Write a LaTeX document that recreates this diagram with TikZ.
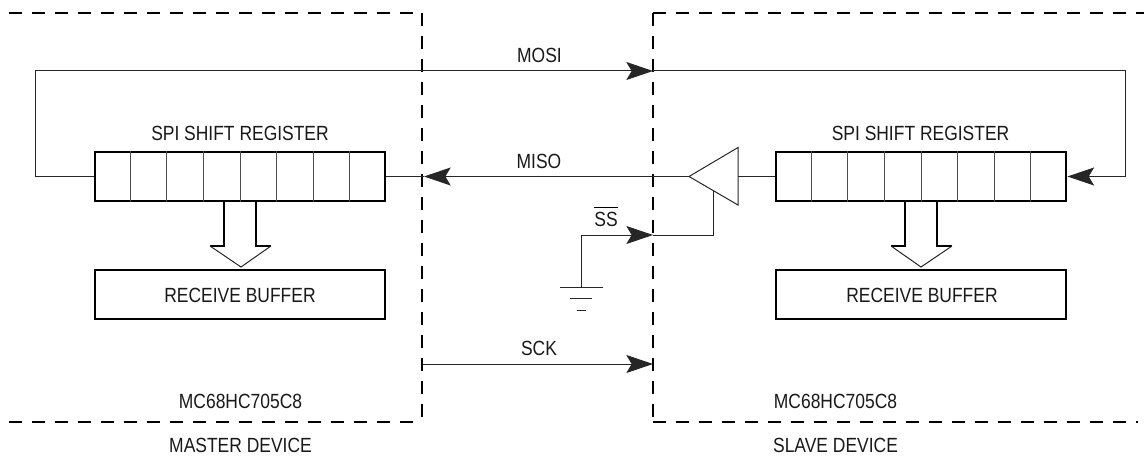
\documentclass[tikz,border=0pt]{standalone}
\usepackage{fontspec}
\setmainfont[FakeStretch=0.85]{Liberation Sans}
\usetikzlibrary{arrows.meta,calc}
\tikzset{
  wire/.style={line width=0.75pt,black!85},
  arrowed/.style={wire,-{Stealth[length=20pt,width=13.5pt,inset=4pt]}},
  devbox/.style={line width=1.25pt,dash pattern=on 10pt off 7.25pt,line cap=butt},
  thickbox/.style={draw,line width=1.6pt,minimum width=218pt,minimum height=36.5pt,inner sep=0pt},
  lbl/.style={font=\fontsize{15.4}{18}\selectfont,inner sep=0pt,text=black!90},
  divider/.style={line width=0.7pt,black!70},
  fat/.style={line width=1.6pt,line join=miter},
}
\begin{document}
\begin{tikzpicture}[x=0.75pt,y=-0.75pt]
\useasboundingbox (0,0) rectangle (1144,456);
% device boundaries
\draw[devbox] (9,13) -- (422,13);
\draw[devbox] (422,13) -- (422,422);
\draw[devbox] (9,422) -- (422,422);
\draw[devbox] (653,13) -- (1144,13);
\draw[devbox] (653,13) -- (653,422);
\draw[devbox] (653,422) -- (1138,422);
% registers
\node[thickbox] (regL) at (240,176.5) {};
\node[thickbox] (regR) at (921,176.5) {};
\foreach \r in {regL,regR}{
  \foreach \k in {1,...,7}{
    \draw[divider] ($(\r.north west)!\k/8!(\r.north east)$) -- ($(\r.south west)!\k/8!(\r.south east)$);
  }
}
% buffers
\node[thickbox] (bufL) at (240,294.5) {};
\node[thickbox] (bufR) at (921,294.5) {};
\node[lbl] (bufLt) at (240,295) {RECEIVE BUFFER};
\node[lbl] (bufRt) at (922,295) {RECEIVE BUFFER};
% transfer arrows
\coordinate (tipL) at (241,267);
\coordinate (tipR) at (921,267);
\draw[fat] (224,202) -- (224,246) -- (210,246);
\draw[fat] (256,202) -- (256,246) -- (271,246);
\draw[wire] (210,246) -- (tipL) -- (271,246);
\draw[fat] (905,202) -- (905,246) -- (891,246);
\draw[fat] (937,202) -- (937,246) -- (952,246);
\draw[wire] (891,246) -- (tipR) -- (952,246);
% labels
\node[lbl] (spiL) at (240,133) {SPI SHIFT REGISTER};
\node[lbl] (spiR) at (920.5,133) {SPI SHIFT REGISTER};
\node[lbl] (mosi) at (539.5,55.5) {MOSI};
\node[lbl] (miso) at (539,161) {MISO};
\node[lbl] (ss) at (606,219.5) {SS};
\draw[line width=1pt] ([yshift=3.5pt]ss.north west) -- ([yshift=3.5pt]ss.north east);
\node[lbl] (sck) at (539,348) {SCK};
\node[lbl] (mcL) at (240.5,401) {MC68HC705C8};
\node[lbl] (mcR) at (835.5,401) {MC68HC705C8};
\node[lbl] (mas) at (240.5,445) {MASTER DEVICE};
\node[lbl] (sla) at (835.5,445) {SLAVE DEVICE};
% MOSI
\coordinate (mosiIn) at (653,71);
\coordinate (mosiL) at (35,71);
\coordinate (mosiR) at (1125,71);
\draw[arrowed] (regL.west) -| (mosiL) -- (mosiIn);
\draw[arrowed] (mosiIn) -- (mosiR) |- (regR.east);
% MISO
\coordinate (trTip) at (689,176.5);
\coordinate (trTop) at (738,147.5);
\coordinate (trBot) at (738,205);
\coordinate (trBase) at (738,176.5);
\coordinate (misoEnd) at (424,176.5);
\coordinate (trEn) at (713,191);
\draw[wire] (trTip) -- (trTop) -- (trBot) -- cycle;
\draw[wire] (regR.west) -- (trBase);
\draw[arrowed] (trTip) -- (misoEnd);
\draw[wire] (regL.east) -- (misoEnd);
% SS
\coordinate (gnd) at (581,287);
\coordinate (ssIn) at (653,235);
\draw[arrowed] (gnd) |- (ssIn);
\draw[wire] (ssIn) -| (trEn);
\draw[wire] (560,287) -- (603,287);
\draw[wire] (570,298) -- (592,298);
\draw[wire] (577,310) -- (586,310);
% SCK
\coordinate (sckA) at (423,364);
\coordinate (sckB) at (653,364);
\draw[arrowed] (sckA) -- (sckB);
\end{tikzpicture}
\end{document}
